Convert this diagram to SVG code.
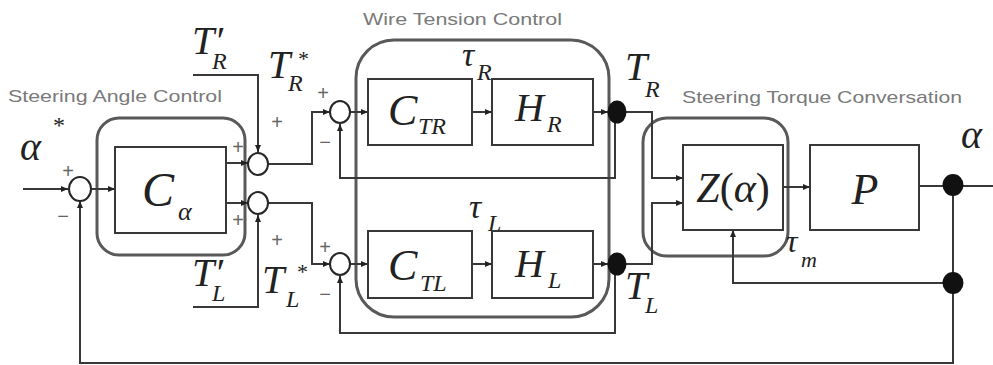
<svg xmlns="http://www.w3.org/2000/svg" width="993" height="365" viewBox="0 0 993 365">
<style>
.ln{fill:none;stroke:#383838;stroke-width:2}
.blk{fill:#fff;stroke:#383838;stroke-width:2}
.grp{fill:none;stroke:#595959;stroke-width:3}
.sum{fill:#fff;stroke:#262626;stroke-width:2}
.dot{fill:#111}
.m{font-family:"Liberation Serif",serif;font-style:italic;fill:#222}
.u{font-style:normal}
.lbl{font-family:"Liberation Sans",sans-serif;fill:#7a7a7a;font-size:17px}
.sg{font-family:"Liberation Sans",sans-serif;fill:#666;font-size:20px;text-anchor:middle}
</style>
<defs>
<marker id="ar" markerWidth="8" markerHeight="8" refX="7" refY="4" orient="auto" markerUnits="userSpaceOnUse"><path d="M0,1 L7,4 L0,7z" fill="#222"/></marker>
</defs>
<rect width="993" height="365" fill="#fff"/>

<g id="group-steering-angle-control">
<rect class="grp" x="97" y="118" width="148" height="137" rx="22"/>
<text class="lbl" x="8" y="102" textLength="214" lengthAdjust="spacingAndGlyphs">Steering Angle Control</text>
</g>
<g id="group-wire-tension-control">
<rect class="grp" x="356" y="40" width="253" height="277" rx="38"/>
<text class="lbl" x="363" y="25" textLength="199" lengthAdjust="spacingAndGlyphs">Wire Tension Control</text>
</g>
<g id="group-steering-torque">
<rect class="grp" x="643" y="118" width="145" height="138" rx="24"/>
<text class="lbl" x="682" y="103" textLength="280" lengthAdjust="spacingAndGlyphs">Steering Torque Conversation</text>
</g>

<g id="connectors">
<path class="ln" d="M23,189 H68" marker-end="url(#ar)"/>
<path class="ln" d="M91,189 H115" marker-end="url(#ar)"/>
<path class="ln" d="M226,163 H248" marker-end="url(#ar)"/>
<path class="ln" d="M226,203 H248" marker-end="url(#ar)"/>
<path class="ln" d="M193,75 H258 V152" marker-end="url(#ar)"/>
<path class="ln" d="M193,307 H258 V215" marker-end="url(#ar)"/>
<path class="ln" d="M268,164 H312 V112 H330" marker-end="url(#ar)"/>
<path class="ln" d="M268,203 H312 V264 H330" marker-end="url(#ar)"/>
<path class="ln" d="M350,112 H368" marker-end="url(#ar)"/>
<path class="ln" d="M472,112 H492" marker-end="url(#ar)"/>
<path class="ln" d="M593,112 H608" marker-end="url(#ar)"/>
<path class="ln" d="M350,264 H368" marker-end="url(#ar)"/>
<path class="ln" d="M472,264 H492" marker-end="url(#ar)"/>
<path class="ln" d="M593,264 H608" marker-end="url(#ar)"/>
<path class="ln" d="M615,112 V178 H340 V124" marker-end="url(#ar)"/>
<path class="ln" d="M615,264 V333 H340 V276" marker-end="url(#ar)"/>
<path class="ln" d="M617,112 H652 V178 H683" marker-end="url(#ar)"/>
<path class="ln" d="M617,264 H652 V203 H683" marker-end="url(#ar)"/>
<path class="ln" d="M783,187 H810" marker-end="url(#ar)"/>
<path class="ln" d="M919,186 H993"/>
<path class="ln" d="M953,185 V363 H80 V201" marker-end="url(#ar)"/>
<path class="ln" d="M953,283 H733 V230" marker-end="url(#ar)"/>
</g>

<g id="input-alpha-star">
<text class="m" x="20" y="160" font-size="40">α</text>
<text class="m u" x="53" y="133" font-size="24">*</text>
</g>

<g id="sum-alpha">
<ellipse class="sum" cx="80" cy="189" rx="11" ry="12"/>
<text class="sg" x="68" y="178">+</text>
<text class="sg" x="63" y="223">−</text>
</g>

<g id="block-C-alpha">
<rect class="blk" x="115" y="147" width="111" height="86"/>
<text class="m" x="142" y="206" font-size="48">C</text>
<text class="m" x="178" y="220" font-size="26">α</text>
</g>

<g id="sum-R1">
<ellipse class="sum" cx="258" cy="164" rx="10" ry="11"/>
<text class="sg" x="238" y="154">+</text>
<text class="sg" x="277" y="129">+</text>
</g>
<g id="sum-L1">
<ellipse class="sum" cx="258" cy="203" rx="10" ry="11"/>
<text class="sg" x="238" y="227">+</text>
<text class="sg" x="277" y="247">+</text>
</g>

<g id="input-TR-prime">
<text class="m" x="192" y="54" font-size="40">T′</text>
<text class="m" x="212" y="69" font-size="24">R</text>
</g>
<g id="input-TR-star">
<text class="m" x="268" y="78" font-size="40">T</text>
<text class="m u" x="298" y="66" font-size="22">*</text>
<text class="m" x="288" y="91" font-size="24">R</text>
</g>
<g id="input-TL-prime">
<text class="m" x="192" y="286" font-size="40">T′</text>
<text class="m" x="212" y="301" font-size="24">L</text>
</g>
<g id="input-TL-star">
<text class="m" x="262" y="293" font-size="40">T</text>
<text class="m u" x="297" y="279" font-size="22">*</text>
<text class="m" x="286" y="307" font-size="24">L</text>
</g>

<g id="sum-R2">
<ellipse class="sum" cx="340" cy="112" rx="10" ry="11"/>
<text class="sg" x="323" y="100">+</text>
<text class="sg" x="325" y="149">−</text>
</g>
<g id="sum-L2">
<ellipse class="sum" cx="340" cy="264" rx="10" ry="11"/>
<text class="sg" x="325" y="254">+</text>
<text class="sg" x="325" y="301">−</text>
</g>

<g id="block-C-TR">
<rect class="blk" x="368" y="79" width="104" height="66"/>
<text class="m" x="388" y="125" font-size="44">C</text>
<text class="m" x="418" y="134" font-size="24">TR</text>
</g>
<g id="label-tau-R">
<text class="m" x="462" y="66" font-size="34">τ</text>
<text class="m" x="477" y="80" font-size="24">R</text>
</g>
<g id="block-H-R">
<rect class="blk" x="492" y="79" width="101" height="66"/>
<text class="m" x="515" y="121" font-size="40">H</text>
<text class="m" x="547" y="132" font-size="24">R</text>
</g>

<g id="block-C-TL">
<rect class="blk" x="368" y="231" width="104" height="67"/>
<text class="m" x="388" y="280" font-size="44">C</text>
<text class="m" x="420" y="291" font-size="24">TL</text>
</g>
<g id="label-tau-L">
<text class="m" x="469" y="218" font-size="34">τ</text>
<text class="m" x="488" y="231" font-size="24">L</text>
</g>
<g id="block-H-L">
<rect class="blk" x="492" y="231" width="101" height="67"/>
<text class="m" x="515" y="277" font-size="40">H</text>
<text class="m" x="548" y="288" font-size="24">L</text>
</g>

<g id="node-TR">
<ellipse class="dot" cx="617" cy="112" rx="9.5" ry="11.5"/>
<text class="m" x="625" y="80" font-size="40">T</text>
<text class="m" x="645" y="97" font-size="24">R</text>
</g>
<g id="node-TL">
<ellipse class="dot" cx="617" cy="264" rx="9.5" ry="11.5"/>
<text class="m" x="625" y="299" font-size="40">T</text>
<text class="m" x="645" y="313" font-size="24">L</text>
</g>

<g id="block-Z">
<rect class="blk" x="683" y="145" width="100" height="85"/>
<text class="m" x="733" y="202" font-size="42" text-anchor="middle">Z<tspan class="u">(</tspan>α<tspan class="u">)</tspan></text>
</g>
<g id="label-tau-m">
<text class="m" x="786" y="252" font-size="32">τ</text>
<text class="m" x="801" y="267" font-size="22">m</text>
</g>

<g id="block-P">
<rect class="blk" x="810" y="145" width="109" height="85"/>
<text class="m" x="865" y="204" font-size="44" text-anchor="middle">P</text>
</g>

<g id="node-output">
<ellipse class="dot" cx="953" cy="185" rx="10.5" ry="11"/>
<text class="m" x="961" y="148" font-size="40">α</text>
</g>
<g id="node-feedback">
<ellipse class="dot" cx="953" cy="283" rx="10.5" ry="11"/>
</g>
</svg>
